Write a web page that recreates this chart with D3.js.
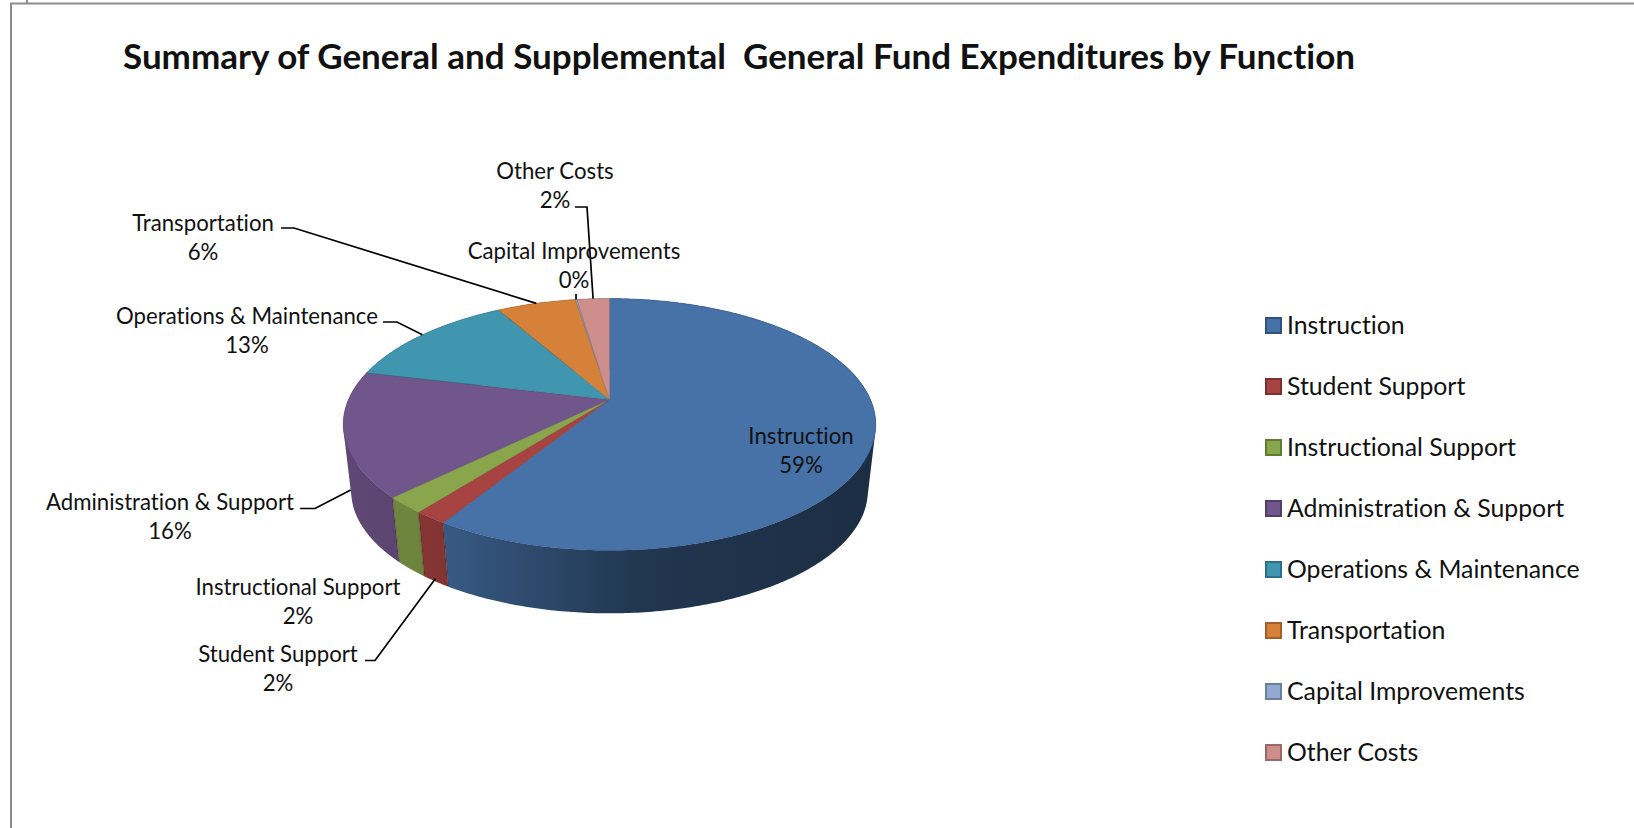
<!DOCTYPE html>
<html><head><meta charset="utf-8">
<script src="https://cdn.jsdelivr.net/npm/d3@7"></script>
<style>html,body{margin:0;padding:0;background:#fff}svg{display:block}text{font-family:Lato,"Open Sans",sans-serif;fill:#111;font-variant-ligatures:none}</style>
</head><body><svg id="c" width="1634" height="828"></svg>
<script>
const categories=["Instruction","Student Support","Instructional Support","Administration & Support","Operations & Maintenance","Transportation","Capital Improvements","Other Costs"];
const values=[58.9,1.7,2.1,16.0,13.0,5.8,0.1,2.4];
const colors=["#4672a8","#a74341","#89a64c","#71568b","#4096ae","#d68139","#93a9d0","#cd8e8c"];
const strokes=["#2f5080","#7d2f2d","#637a34","#523e66","#2c7085","#a05f27","#6b7ea0","#99696a"];
const titleText="Summary of General and Supplemental  General Fund Expenditures by Function";

const svg=d3.select("#c");
const defs=svg.append("defs");
// frame
svg.append("path").attr("d","M11 828V3.5H1634M27 0V3").attr("fill","none").attr("stroke","#8c8c8c").attr("stroke-width",2);
svg.append("text").attr("x",123).attr("y",69).attr("font-weight",700).attr("font-size",35).style("white-space","pre").attr("xml:space","preserve").text(titleText);

// perspective projection of the pie disc
const cx=609.5,cy=399.5,k=0.198,a=261,b=121,dep=67.5,sc=0.97;
function proj(t,bottom){const X=Math.sin(t),Y=-Math.cos(t),w=1-k*Y,s=bottom?sc:1;
  return [cx+s*a*X/w, cy+(bottom?dep:0)+s*b*Y/w];}
const pie=d3.pie().sort(null).value(d=>d)(values);
const steps=(s,e)=>{const n=Math.max(2,Math.ceil((e-s)/0.012));return d3.range(n+1).map(i=>s+(e-s)*i/n);};
const line=d3.line();
const shadeX=[340,448,640,876],shadeF=[0.84,0.78,0.47,0.40];

// one x-running gradient per slice, for the side walls
colors.forEach((c,i)=>{const gr=defs.append("linearGradient").attr("id","wall"+i).attr("gradientUnits","userSpaceOnUse")
   .attr("x1",shadeX[0]).attr("x2",shadeX[3]).attr("y1",0).attr("y2",0);
  const rgb=d3.rgb(c);
  shadeX.forEach((x,j)=>gr.append("stop").attr("offset",(x-shadeX[0])/(shadeX[3]-shadeX[0]))
     .attr("stop-color",d3.rgb(rgb.r*shadeF[j],rgb.g*shadeF[j],rgb.b*shadeF[j])));});

// walls, far slices first: each wall is one path of same-wound quads, so the silhouette is filled without seams
const order=pie.map((p,i)=>({p,i})).sort((u,v)=>-Math.cos((u.p.startAngle+u.p.endAngle)/2)+Math.cos((v.p.startAngle+v.p.endAngle)/2));
svg.append("g").selectAll("path").data(order).join("path")
 .attr("d",d=>{const ts=steps(d.p.startAngle,d.p.endAngle);
    return d3.pairs(ts).map(([t0,t1])=>{const q=[proj(t0),proj(t1),proj(t1,1),proj(t0,1)];
      if(d3.polygonArea(q)<0)q.reverse();return line(q)+"Z";}).join("");})
 .attr("fill",d=>`url(#wall${d.i})`).attr("fill-rule","nonzero");
// wall separators in front
pie.forEach(p=>{[p.startAngle,p.endAngle].forEach(t=>{if(Math.cos(t)<0){
  svg.append("path").attr("d",line([proj(t),proj(t,1)])).attr("stroke","#000").attr("stroke-opacity",0.15).attr("stroke-width",1);}});});
// top face
svg.append("g").selectAll("path").data(pie).join("path")
 .attr("d",p=>line([[cx,cy],...steps(p.startAngle,p.endAngle).map(t=>proj(t))])+"Z")
 .attr("fill",(p,i)=>colors[i]).attr("stroke",(p,i)=>strokes[i]).attr("stroke-width",0.4).attr("stroke-linejoin","round");

// data labels and leaders
const labelPos=[[801,437],[278,655],[298,588],[170,503],[247,317],[203,224],[574,252],[555,172]];
const leaderStart=[null,[365,660.5,375,.95],null,[300,508.5,315,.85],[383,322,397,0],[281,228,294,0],null,[575,207,587,0]];
const g=svg.append("g");
leaderStart.forEach((l,i)=>{if(!l)return;const m=(pie[i].startAngle+pie[i].endAngle)/2;
  const e=d3.interpolate(proj(m),proj(m,1))(l[3]);
  g.append("path").attr("d",line([[l[0],l[1]],[l[2],l[1]],e])).attr("fill","none").attr("stroke","#000").attr("stroke-width",1.7);});
{const m=(pie[6].startAngle+pie[6].endAngle)/2,e=proj(m);
 g.append("path").attr("d",line([[e[0],294],e])).attr("stroke","#000").attr("stroke-width",1.7);}
categories.forEach((c,i)=>{const [x,y]=labelPos[i];
  const t=g.append("text").attr("text-anchor","middle").attr("font-size",22.2);
  t.append("tspan").attr("x",x).attr("y",y+7).text(c);
  t.append("tspan").attr("x",x).attr("y",y+36).text(Math.round(values[i])+"%");});

// legend
const lg=svg.append("g").selectAll("g").data(categories).join("g").attr("transform",(d,i)=>`translate(1265,${317+61*i})`);
lg.append("rect").attr("x",1).attr("y",1).attr("width",15).attr("height",15).attr("fill",(d,i)=>colors[i]).attr("stroke",(d,i)=>strokes[i]).attr("stroke-width",2);
lg.append("text").attr("x",22).attr("y",17).attr("font-size",24.8).text(d=>d);
</script></body></html>
